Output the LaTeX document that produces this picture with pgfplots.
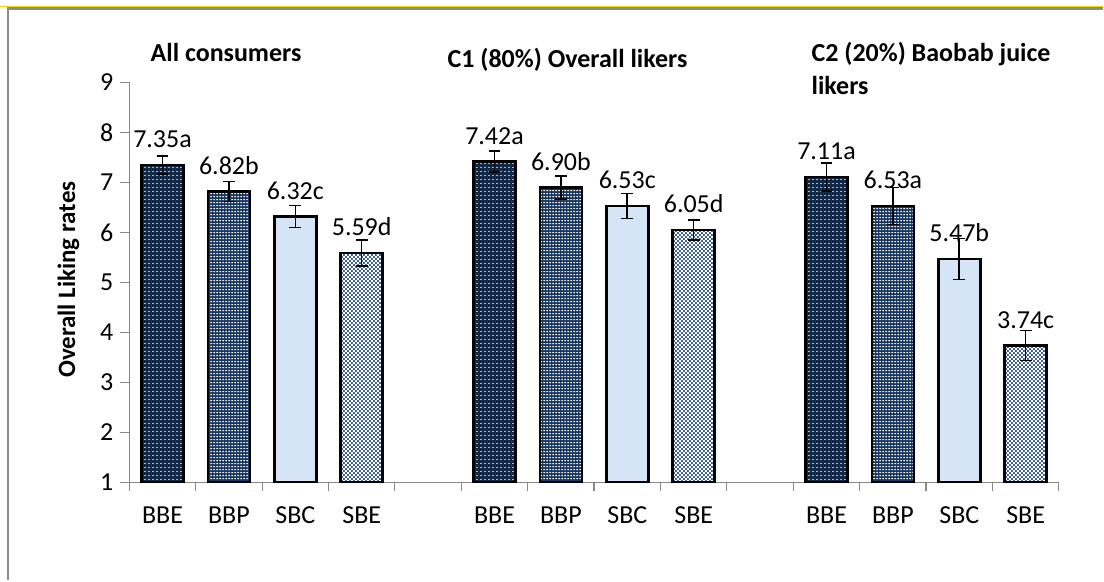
\documentclass[border=0pt]{standalone}
\usepackage{fontspec}
\setmainfont{Carlito}
\usepackage{pgfplots}
\pgfplotsset{compat=1.18}
\usepackage{pgfplotstable}
\usetikzlibrary{patterns.meta}

\definecolor{bbe}{HTML}{112847}
\definecolor{bbp}{HTML}{1A3862}
\definecolor{sbc}{HTML}{D5E4F7}
\definecolor{sbe}{HTML}{305A96}
\definecolor{axgray}{HTML}{878787}
\definecolor{framegray}{HTML}{8C8C8C}

\tikzdeclarepattern{
  name=bigdots, type=uncolored,
  bottom left={(0pt,0pt)}, top right={(2pt,1.8pt)}, tile size={(2pt,1.8pt)},
  code={\fill (0.7pt,0.6pt) rectangle (1.3pt,1.1pt);}
}
\tikzdeclarepattern{
  name=smalldots, type=uncolored,
  bottom left={(0pt,0pt)}, top right={(1.6pt,1.5pt)}, tile size={(1.6pt,1.5pt)},
  code={\fill (0.3pt,0.5pt) rectangle (1.2pt,1.0pt);}
}
\tikzdeclarepattern{
  name=checker, type=uncolored,
  bottom left={(0pt,0pt)}, top right={(2pt,2pt)}, tile size={(2pt,2pt)},
  code={\fill (0pt,0pt) rectangle (1pt,1pt); \fill (1pt,1pt) rectangle (2pt,2pt);}
}

\pgfplotstableread{
x y e lab
1 7.35 0.18 7.35a
6 7.42 0.21 7.42a
11 7.11 0.28 7.11a
}\tblBBE
\pgfplotstableread{
x y e lab
2 6.82 0.20 6.82b
7 6.90 0.23 6.90b
12 6.53 0.37 6.53a
}\tblBBP
\pgfplotstableread{
x y e lab
3 6.32 0.22 6.32c
8 6.53 0.25 6.53c
13 5.47 0.41 5.47b
}\tblSBC
\pgfplotstableread{
x y e lab
4 5.59 0.26 5.59d
9 6.05 0.20 6.05d
14 3.74 0.30 3.74c
}\tblSBE

\pgfplotsset{
  mybar/.style={ybar, bar width=21pt, bar shift=0pt, draw=black, line width=1.3pt,
    nodes near coords, point meta=explicit symbolic,
    every node near coord/.append style={font=\fontsize{13}{14}\selectfont, text=black, anchor=south, inner sep=0pt, yshift=7.8pt},
    error bars/y dir=both, error bars/y explicit,
    error bars/error bar style={line width=0.8pt, black, solid},
    error bars/error mark options={rotate=90, mark size=3pt, line width=0.8pt, black, solid}},
}

\begin{document}
\begin{tikzpicture}
\path (0,0) rectangle (552pt,290.5pt);
\draw[yellow!80!olive, line width=0.5pt] (0pt,287.3pt) -- (552pt,287.3pt);
\draw[framegray, line width=1.2pt] (3.7pt,0pt) -- (3.7pt,286.3pt) -- (552pt,286.3pt);
\begin{axis}[
  at={(64.5pt,49pt)}, anchor=south west,
  scale only axis, width=465.5pt, height=200.2pt,
  xmin=0.5, xmax=14.5, ymin=1, ymax=9,
  axis x line*=bottom, axis y line*=left,
  axis line style={draw=axgray, line width=0.6pt},
  tick align=outside,
  major tick length=4.5pt,
  tick style={draw=axgray, line width=0.6pt},
  ytick={1,...,9},
  xtick={0.5,1.5,...,14.5},
  xticklabels={},
  extra x ticks={1,2,3,4,6,7,8,9,11,12,13,14},
  extra x tick labels={BBE,BBP,SBC,SBE,BBE,BBP,SBC,SBE,BBE,BBP,SBC,SBE},
  extra x tick style={major tick length=0pt, tick label style={font=\fontsize{13}{14}\selectfont, text depth=0pt, text height=8.5pt, yshift=-8.5pt}},
  /pgf/number format/assume math mode=true,
  yticklabel style={font=\fontsize{13}{14}\selectfont},
  clip mode=individual,
]
\addplot[mybar, preaction={fill=bbe}, pattern=bigdots, pattern color=white] table[x=x, y=y, y error=e, meta=lab] {\tblBBE};
\addplot[mybar, preaction={fill=bbp}, pattern=smalldots, pattern color=white] table[x=x, y=y, y error=e, meta=lab] {\tblBBP};
\addplot[mybar, fill=sbc] table[x=x, y=y, y error=e, meta=lab] {\tblSBC};
\addplot[mybar, preaction={fill=sbe}, pattern=checker, pattern color=white] table[x=x, y=y, y error=e, meta=lab] {\tblSBE};
\end{axis}
\node[rotate=90, font=\bfseries\fontsize{12.5}{13}\selectfont] at (34pt,150.5pt) {Overall Liking rates};
\node[anchor=base west, font=\bfseries\fontsize{13}{14}\selectfont, inner sep=0pt] at (75pt,259.6pt) {All consumers};
\node[anchor=base west, font=\bfseries\fontsize{13}{14}\selectfont, inner sep=0pt] at (223.75pt,256.5pt) {C1 (80\%) Overall likers};
\node[anchor=base west, font=\bfseries\fontsize{13}{14}\selectfont, inner sep=0pt] at (406pt,259.5pt) {C2 (20\%) Baobab juice};
\node[anchor=base west, font=\bfseries\fontsize{13}{14}\selectfont, inner sep=0pt] at (406pt,243pt) {likers};
\end{tikzpicture}
\end{document}
